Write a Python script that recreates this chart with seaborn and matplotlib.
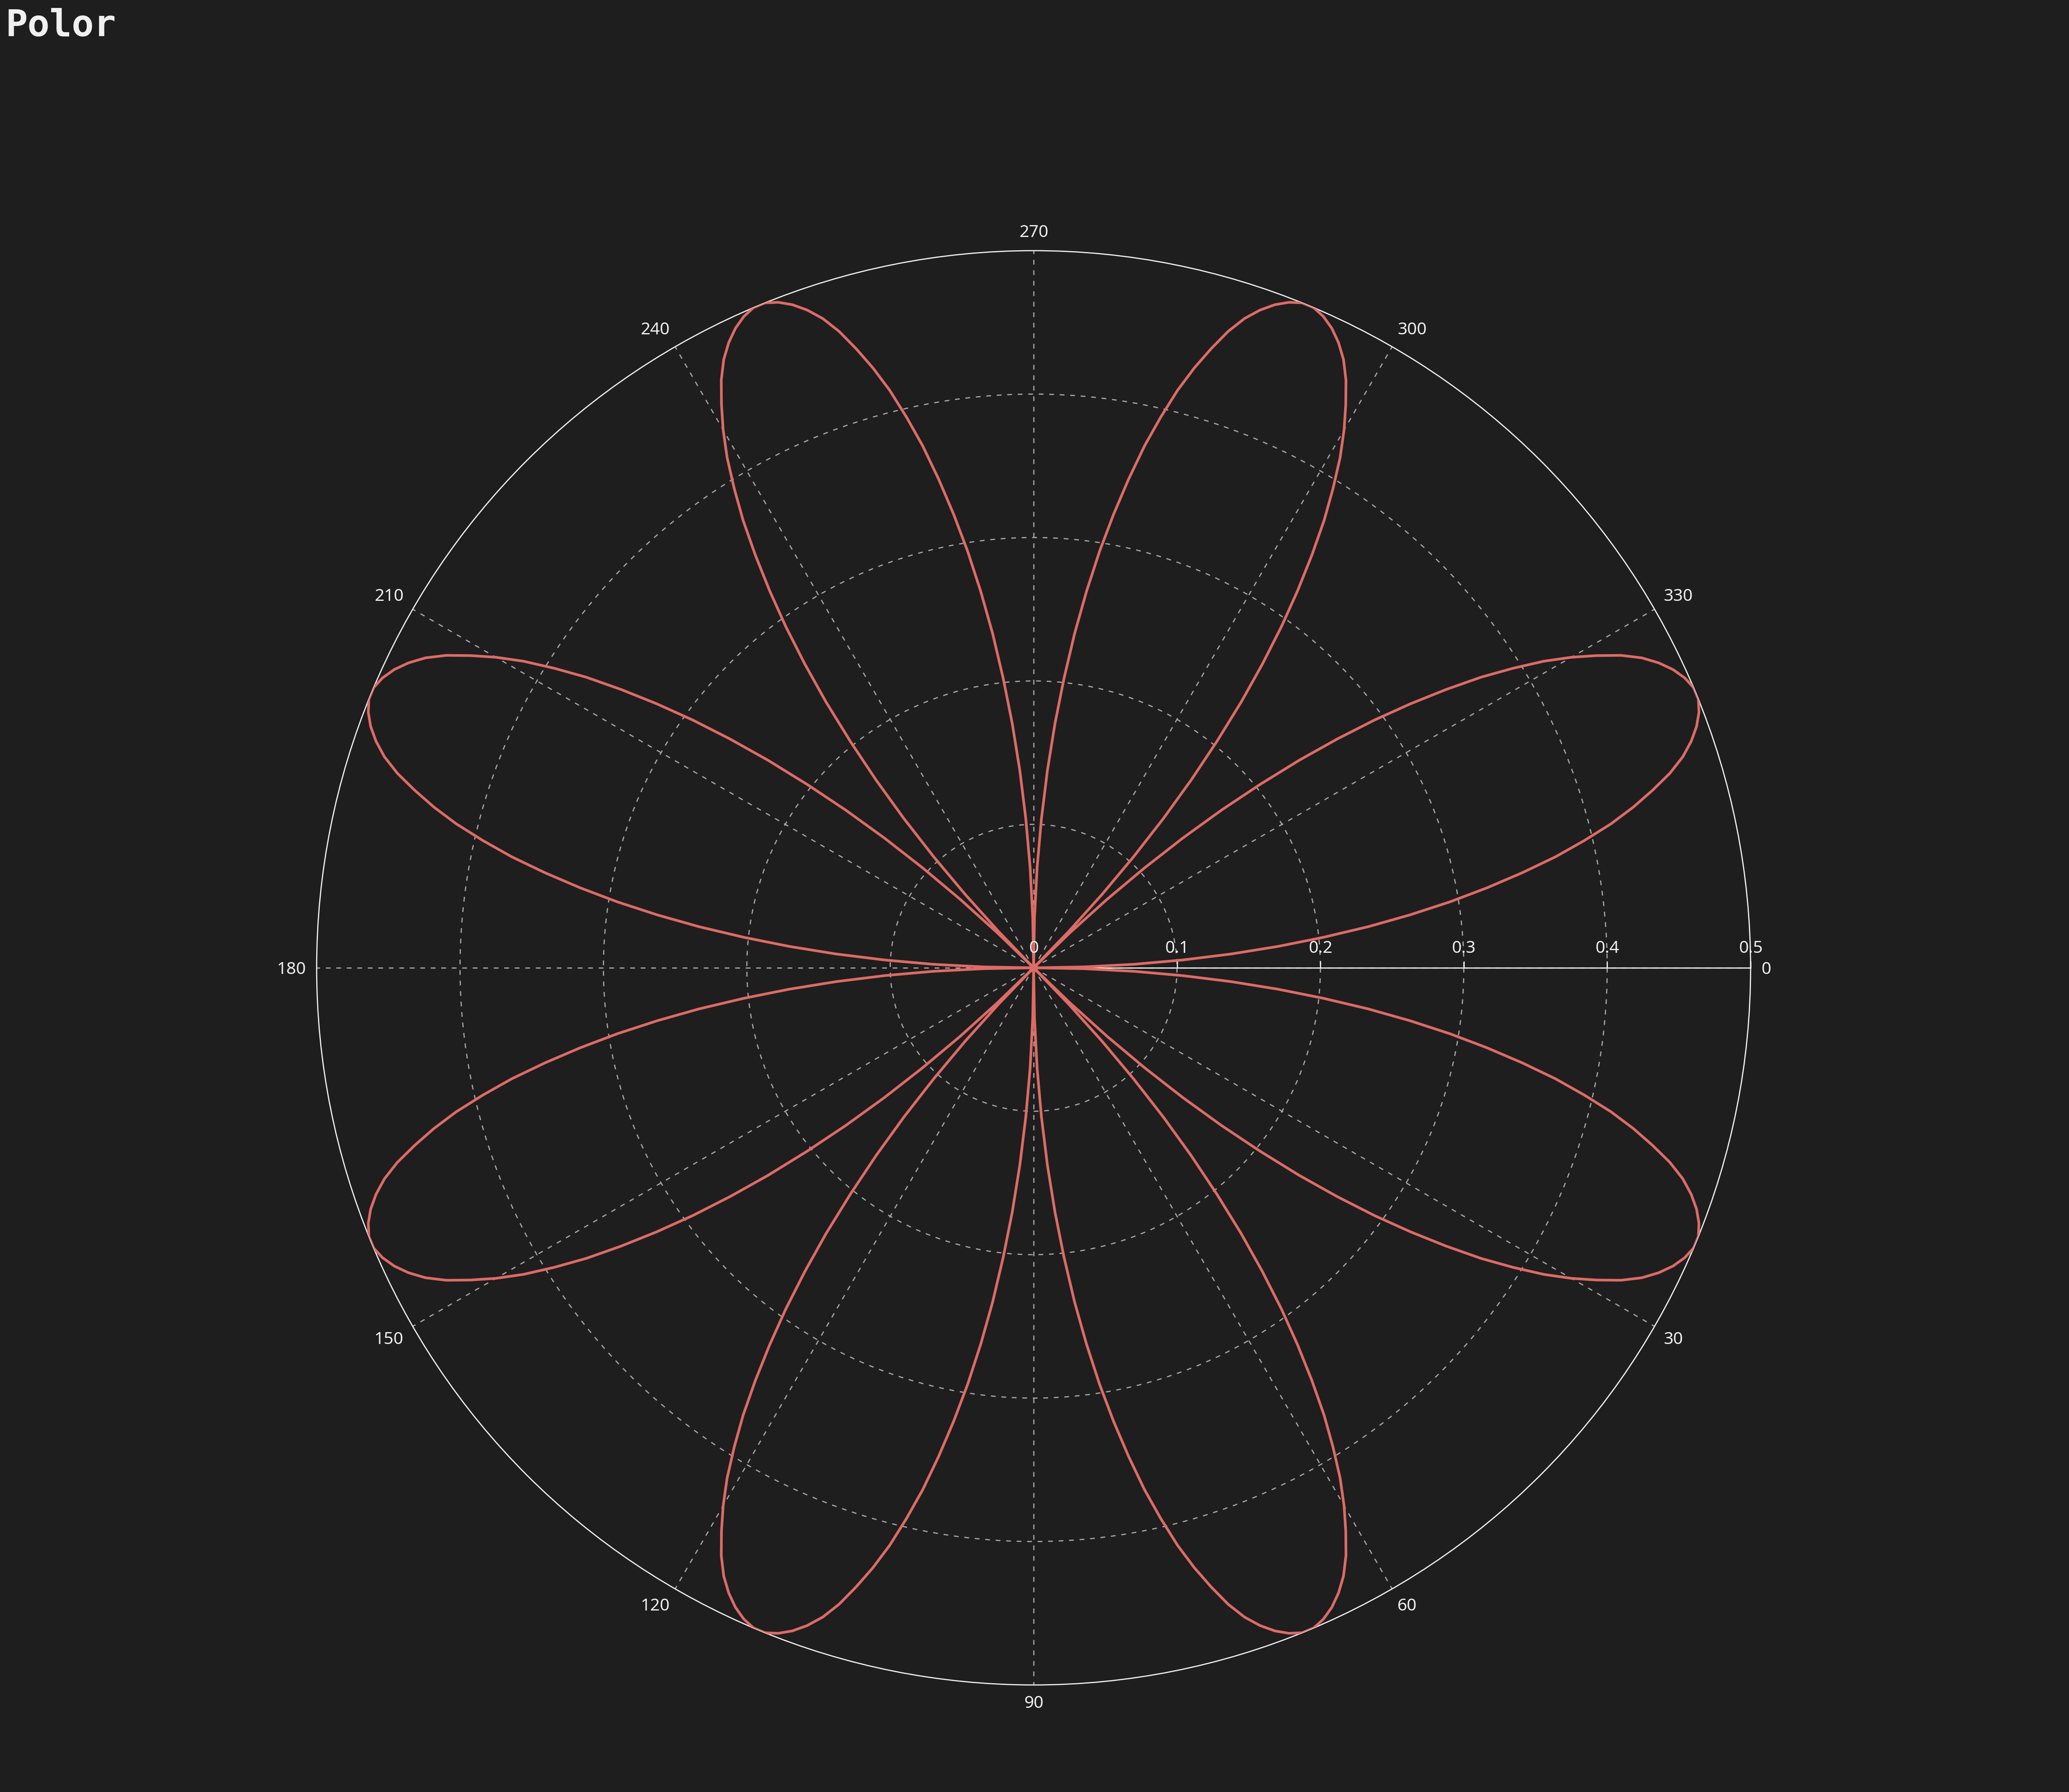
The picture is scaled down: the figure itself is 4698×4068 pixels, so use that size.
import numpy as np
import matplotlib
matplotlib.use("Agg")
import matplotlib.pyplot as plt
import seaborn as sns
import pandas as pd

# ---------------- data ----------------
title = "Polor"
angle_ticks = [0, 30, 60, 90, 120, 150, 180, 210, 240, 270, 300, 330]
radius_ticks = [0, 0.1, 0.2, 0.3, 0.4, 0.5]
radius_tick_labels = ["0", "0.1", "0.2", "0.3", "0.4", "0.5"]

# one sample per degree, 0..360
theta_deg = list(range(0, 361))

radius = [
    0.000, 0.035, 0.070, 0.104, 0.138, 0.171, 0.203, 0.235, 0.265, 0.294, 0.321, 0.347, 0.372, 0.394, 0.415,
    0.433, 0.449, 0.464, 0.476, 0.485, 0.492, 0.497, 0.500, 0.500, 0.497, 0.492, 0.485, 0.476, 0.464, 0.449,
    0.433, 0.415, 0.394, 0.372, 0.347, 0.321, 0.294, 0.265, 0.235, 0.203, 0.171, 0.138, 0.104, 0.070, 0.035,
    0.000, 0.035, 0.070, 0.104, 0.138, 0.171, 0.203, 0.235, 0.265, 0.294, 0.321, 0.347, 0.372, 0.394, 0.415,
    0.433, 0.449, 0.464, 0.476, 0.485, 0.492, 0.497, 0.500, 0.500, 0.497, 0.492, 0.485, 0.476, 0.464, 0.449,
    0.433, 0.415, 0.394, 0.372, 0.347, 0.321, 0.294, 0.265, 0.235, 0.203, 0.171, 0.138, 0.104, 0.070, 0.035,
    0.000, 0.035, 0.070, 0.104, 0.138, 0.171, 0.203, 0.235, 0.265, 0.294, 0.321, 0.347, 0.372, 0.394, 0.415,
    0.433, 0.449, 0.464, 0.476, 0.485, 0.492, 0.497, 0.500, 0.500, 0.497, 0.492, 0.485, 0.476, 0.464, 0.449,
    0.433, 0.415, 0.394, 0.372, 0.347, 0.321, 0.294, 0.265, 0.235, 0.203, 0.171, 0.138, 0.104, 0.070, 0.035,
    0.000, 0.035, 0.070, 0.104, 0.138, 0.171, 0.203, 0.235, 0.265, 0.294, 0.321, 0.347, 0.372, 0.394, 0.415,
    0.433, 0.449, 0.464, 0.476, 0.485, 0.492, 0.497, 0.500, 0.500, 0.497, 0.492, 0.485, 0.476, 0.464, 0.449,
    0.433, 0.415, 0.394, 0.372, 0.347, 0.321, 0.294, 0.265, 0.235, 0.203, 0.171, 0.138, 0.104, 0.070, 0.035,
    0.000, 0.035, 0.070, 0.104, 0.138, 0.171, 0.203, 0.235, 0.265, 0.294, 0.321, 0.347, 0.372, 0.394, 0.415,
    0.433, 0.449, 0.464, 0.476, 0.485, 0.492, 0.497, 0.500, 0.500, 0.497, 0.492, 0.485, 0.476, 0.464, 0.449,
    0.433, 0.415, 0.394, 0.372, 0.347, 0.321, 0.294, 0.265, 0.235, 0.203, 0.171, 0.138, 0.104, 0.070, 0.035,
    0.000, 0.035, 0.070, 0.104, 0.138, 0.171, 0.203, 0.235, 0.265, 0.294, 0.321, 0.347, 0.372, 0.394, 0.415,
    0.433, 0.449, 0.464, 0.476, 0.485, 0.492, 0.497, 0.500, 0.500, 0.497, 0.492, 0.485, 0.476, 0.464, 0.449,
    0.433, 0.415, 0.394, 0.372, 0.347, 0.321, 0.294, 0.265, 0.235, 0.203, 0.171, 0.138, 0.104, 0.070, 0.035,
    0.000, 0.035, 0.070, 0.104, 0.138, 0.171, 0.203, 0.235, 0.265, 0.294, 0.321, 0.347, 0.372, 0.394, 0.415,
    0.433, 0.449, 0.464, 0.476, 0.485, 0.492, 0.497, 0.500, 0.500, 0.497, 0.492, 0.485, 0.476, 0.464, 0.449,
    0.433, 0.415, 0.394, 0.372, 0.347, 0.321, 0.294, 0.265, 0.235, 0.203, 0.171, 0.138, 0.104, 0.070, 0.035,
    0.000, 0.035, 0.070, 0.104, 0.138, 0.171, 0.203, 0.235, 0.265, 0.294, 0.321, 0.347, 0.372, 0.394, 0.415,
    0.433, 0.449, 0.464, 0.476, 0.485, 0.492, 0.497, 0.500, 0.500, 0.497, 0.492, 0.485, 0.476, 0.464, 0.449,
    0.433, 0.415, 0.394, 0.372, 0.347, 0.321, 0.294, 0.265, 0.235, 0.203, 0.171, 0.138, 0.104, 0.070, 0.035,
    0.000,
]

# ---------------- style ----------------
BG = "#1e1e1e"
LINE = "#dd6b66"
AXIS = "#eeeeee"
GRID = "#a6a6a6"
TEXT = "#eeeeee"
FONT = ["Noto Sans", "DejaVu Sans"]
LABEL_SIZE = 9.3

plt.rcParams["font.family"] = FONT

W, H, DPI = 4698, 4068, 300
fig = plt.figure(figsize=(W / DPI, H / DPI), dpi=DPI, facecolor=BG)

cx, cy, R = 2347, 2197, 1628
ax = fig.add_axes([(cx - R) / W, (H - cy - R) / H, 2 * R / W, 2 * R / H],
                  projection="polar", facecolor=BG)
ax.set_theta_zero_location("E")
ax.set_theta_direction(-1)

df = pd.DataFrame({"theta": np.deg2rad(theta_deg), "r": radius})
sns.lineplot(data=df, x="theta", y="r", ax=ax, sort=False, estimator=None,
             color=LINE, linewidth=1.45, zorder=5)
ax.set_ylim(0, radius_ticks[-1])
ax.set_xlabel("")
ax.set_ylabel("")

ax.set_xticks(np.deg2rad(angle_ticks))
ax.set_xticklabels([])
ax.set_yticks(radius_ticks[1:-1])
ax.set_yticklabels([])
ax.grid(True, color=GRID, linestyle=(0, (4, 4.8)), linewidth=0.65)
ax.spines["polar"].set_color(AXIS)
ax.spines["polar"].set_linewidth(0.65)
ax.tick_params(axis="x", direction="out", length=3.6, width=0.65, color=AXIS)
ax.tick_params(axis="y", length=0)

# radius axis line + ticks
ax.plot([0, 0], [radius_ticks[0], radius_ticks[-1]], color=AXIS, lw=0.65,
        zorder=3, clip_on=False)
ax.plot([0] * len(radius_ticks), radius_ticks, ls="none", marker=2, ms=3.6,
        mew=0.65, color=AXIS, zorder=3, clip_on=False)

# radius labels
for r, lbl in zip(radius_ticks, radius_tick_labels):
    ax.annotate(lbl, xy=(0, r), xytext=(0, 8.2), textcoords="offset points",
                ha="center", va="baseline", color=TEXT, fontsize=LABEL_SIZE,
                annotation_clip=False, zorder=6)

# angle labels
for a in angle_ticks:
    t = np.deg2rad(a)
    dx = np.cos(t)
    dy = -np.sin(t)
    ox, oy = 5.76 * dx, 5.76 * dy
    ha = "left" if dx > 0.01 else ("right" if dx < -0.01 else "center")
    if dy > 0.01:
        oy += 1.68
    elif dy < -0.01:
        oy -= 6.72
    else:
        oy -= 3.36
    ax.annotate(str(a), xy=(t, radius_ticks[-1]), xytext=(ox, oy),
                textcoords="offset points", ha=ha, va="baseline", color=TEXT,
                fontsize=LABEL_SIZE, annotation_clip=False)

fig.text(12 / W, 1 - 18 / H, title, ha="left", va="top", color="#f0f0f0",
         fontsize=20, fontweight="bold", family=["DejaVu Sans Mono"])

fig.savefig("out.png", dpi=DPI, facecolor=BG)
